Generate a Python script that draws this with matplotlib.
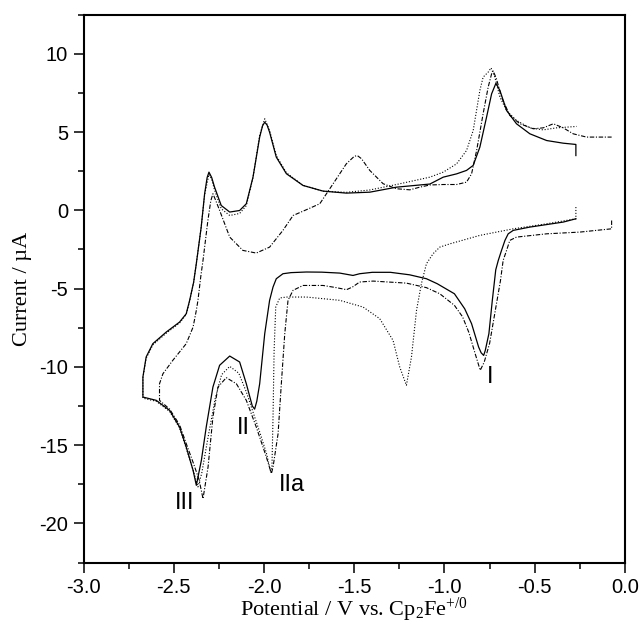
import matplotlib
matplotlib.use("Agg")
import matplotlib.pyplot as plt
from matplotlib.ticker import MultipleLocator

plt.rcParams['axes.unicode_minus'] = False
plt.rcParams['mathtext.fontset'] = 'custom'
plt.rcParams['mathtext.rm'] = 'Liberation Serif'
plt.rcParams['mathtext.it'] = 'Liberation Serif:italic'

# solid trace: starts at -0.27 V going negative, reverses at -2.67 V
solid_v = [-0.272, -0.342, -0.527, -0.619, -0.647, -0.665, -0.684, -0.702, -0.716, -0.735,
           -0.754, -0.774, -0.783, -0.797, -0.811, -0.85, -0.888, -0.945, -1.04, -1.1,
           -1.193, -1.30, -1.40, -1.47, -1.507, -1.58, -1.68, -1.765, -1.85, -1.895,
           -1.932, -1.95, -1.969, -1.996, -2.024, -2.04, -2.052, -2.065, -2.098, -2.135,
           -2.19, -2.246, -2.283, -2.32, -2.347, -2.375, -2.393, -2.431, -2.468, -2.523,
           -2.597, -2.671, -2.671, -2.653, -2.616, -2.542, -2.468, -2.431, -2.412, -2.39,
           -2.375, -2.348, -2.329, -2.315, -2.305, -2.29, -2.274, -2.237, -2.19, -2.135,
           -2.098, -2.061, -2.024, -2.008, -1.996, -1.983, -1.969, -1.932, -1.876, -1.784,
           -1.673, -1.544, -1.414, -1.266, -1.081, -1.007, -0.933, -0.878, -0.841, -0.804,
           -0.767, -0.739, -0.715, -0.693, -0.656, -0.601, -0.527, -0.434, -0.342, -0.272,
           -0.272]
solid_i = [-0.54, -0.75, -1.07, -1.28, -1.5, -1.92, -2.56, -3.2, -3.8, -5.75,
           -7.88, -8.95, -9.27, -9.1, -8.73, -7.24, -6.29, -5.33, -4.69, -4.37,
           -4.12, -3.96, -3.96, -4.05, -4.16, -4.01, -3.95, -3.94, -3.98, -4.05,
           -4.37, -4.9, -5.75, -7.88, -11.08, -12.2, -12.7, -12.5, -11.08, -9.69,
           -9.31, -9.9, -11.29, -13.84, -15.97, -17.57, -16.61, -15.12, -13.84, -12.78,
           -12.14, -11.93, -10.65, -9.37, -8.52, -7.78, -7.14, -6.61, -5.75, -4.6,
           -3.4, -1.07, 1.06, 2.1, 2.44, 2.1, 1.48, 0.31, -0.11, -0.01,
           0.42, 2.12, 4.68, 5.4, 5.63, 5.45, 4.99, 3.4, 2.34, 1.59,
           1.23, 1.1, 1.16, 1.48, 1.68, 2.12, 2.33, 2.55, 2.87, 4.04,
           5.95, 7.44, 8.12, 7.66, 6.38, 5.53, 4.89, 4.46, 4.29, 4.21,
           3.5]

# dash-dot trace: scan window -0.07 V to -2.58 V
dashdot_v = [-0.074, -0.074, -0.25, -0.434, -0.601, -0.638, -0.656, -0.675, -0.69, -0.72,
             -0.75, -0.78, -0.802, -0.83, -0.865, -0.9, -0.945, -1.026, -1.1, -1.211,
             -1.396, -1.47, -1.51, -1.543, -1.599, -1.673, -1.784, -1.839, -1.867, -1.885,
             -1.904, -1.922, -1.95, -1.959, -1.987, -2.043, -2.098, -2.153, -2.209, -2.255,
             -2.283, -2.31, -2.338, -2.36, -2.393, -2.431, -2.468, -2.523, -2.579, -2.579,
             -2.56, -2.505, -2.431, -2.393, -2.375, -2.366, -2.35, -2.338, -2.311, -2.295,
             -2.283, -2.27, -2.246, -2.19, -2.117, -2.043, -1.969, -1.895, -1.839, -1.765,
             -1.691, -1.617, -1.544, -1.50, -1.483, -1.46, -1.414, -1.34, -1.266, -1.192,
             -1.137, -1.081, -1.007, -0.933, -0.878, -0.85, -0.822, -0.786, -0.758, -0.739,
             -0.73, -0.712, -0.684, -0.638, -0.582, -0.508, -0.453, -0.397, -0.342, -0.287,
             -0.213, -0.074]
dashdot_i = [-0.65, -1.18, -1.39, -1.5, -1.71, -1.92, -2.56, -3.2, -4.5, -6.5,
             -8.5, -9.7, -10.22, -9.16, -7.8, -6.8, -6.07, -5.33, -4.94, -4.65,
             -4.52, -4.58, -4.9, -5.07, -4.94, -4.8, -4.8, -5.11, -5.75, -7.88,
             -11.08, -14.27, -16.4, -16.82, -15.76, -13.84, -12.14, -11.08, -10.69, -11.29,
             -13.2, -16.4, -18.42, -17.2, -16.1, -14.9, -13.7, -12.7, -12.14, -11.08,
             -10.44, -9.58, -8.52, -7.46, -6.39, -5.75, -4.2, -3.2, -0.65, 0.6,
             1.06, 0.7, 0.0, -1.71, -2.56, -2.73, -2.35, -1.28, -0.33, 0.04,
             0.42, 1.7, 2.97, 3.45, 3.5, 3.3, 2.55, 1.7, 1.38, 1.31,
             1.48, 1.62, 1.65, 1.65, 1.8, 2.33, 3.82, 6.17, 7.87, 8.72,
             8.9, 8.4, 7.23, 6.06, 5.53, 5.21, 5.27, 5.53, 5.27, 4.89,
             4.68, 4.68]

# dotted trace
dotted_v = [-0.272, -0.272, -0.434, -0.619, -0.804, -0.970, -1.026, -1.063, -1.1, -1.128,
            -1.155, -1.183, -1.211, -1.248, -1.285, -1.359, -1.451, -1.58, -1.765, -1.876,
            -1.913, -1.935, -1.944, -1.95, -1.956, -1.962, -1.987, -2.02, -2.052, -2.098,
            -2.14, -2.19, -2.235, -2.27, -2.31, -2.345, -2.366, -2.385, -2.431, -2.468,
            -2.523, -2.597, -2.671, -2.671, -2.653, -2.616, -2.542, -2.468, -2.431, -2.412,
            -2.39, -2.375, -2.348, -2.329, -2.305, -2.29, -2.274, -2.237, -2.19, -2.135,
            -2.098, -2.061, -2.024, -1.996, -1.969, -1.932, -1.876, -1.784, -1.673, -1.544,
            -1.414, -1.266, -1.081, -1.007, -0.933, -0.878, -0.841, -0.804, -0.786, -0.758,
            -0.742, -0.721, -0.693, -0.656, -0.601, -0.527, -0.453, -0.379, -0.268]
dotted_i = [0.21, -0.54, -0.86, -1.18, -1.6, -2.14, -2.35, -2.77, -3.41, -4.69,
            -6.39, -9.37, -11.18, -10.01, -8.31, -6.92, -6.18, -5.75, -5.54, -5.54,
            -5.6, -6.18, -8.95, -13.2, -16.4, -16.75, -15.5, -14.3, -13.2, -11.6,
            -10.4, -9.97, -10.5, -12.0, -14.5, -16.8, -17.67, -16.9, -15.2, -13.9,
            -12.85, -12.2, -12.0, -10.7, -9.45, -8.6, -7.85, -7.2, -6.65, -5.8,
            -4.6, -3.4, -1.07, 1.0, 2.3, 2.0, 1.3, 0.1, -0.33, -0.2,
            0.3, 2.1, 4.8, 5.85, 5.1, 3.5, 2.4, 1.6, 1.22, 1.15,
            1.3, 1.65, 2.12, 2.44, 2.97, 3.82, 5.1, 7.66, 8.51, 8.83,
            9.1, 8.51, 7.23, 6.38, 5.74, 5.27, 5.14, 5.27, 5.36]

peak_names = ['I', 'II', 'IIa', 'III']
peak_pos = [(-0.749, -10.67), (-2.113, -13.93), (-1.847, -17.57), (-2.44, -18.72)]

fig = plt.figure(figsize=(6.41, 6.25), dpi=100)
ax = fig.add_axes([0.1303, 0.1, 0.8447, 0.8765])

ax.plot(solid_v, solid_i, color='black', lw=0.9, linestyle='-')
ax.plot(dashdot_v, dashdot_i, color='black', lw=0.8, linestyle=(0, (4, 1.5, 1, 1.5)))
ax.plot(dotted_v, dotted_i, color='black', lw=0.8, linestyle=(0, (1, 1.6)))

for name, (x, y) in zip(peak_names, peak_pos):
    ax.text(x, y, name, ha='center', va='center', fontsize=17,
            family='Liberation Sans')

ax.set_xlim(-3.0, 0.0)
ax.set_ylim(-22.5, 12.5)
ax.xaxis.set_minor_locator(MultipleLocator(0.25))
ax.yaxis.set_minor_locator(MultipleLocator(2.5))
ax.set_xticks([-3.0, -2.5, -2.0, -1.5, -1.0, -0.5, 0.0])
ax.set_xticklabels(['-3.0', '-2.5', '-2.0', '-1.5', '-1.0', '-0.5', '0.0'])
ax.set_yticks([-20, -15, -10, -5, 0, 5, 10])
ax.set_yticklabels(['-20', '-15', '-10', '-5', '0', '5', '10'])
ax.tick_params(which='major', direction='out', length=7, width=1.1, pad=4,
               labelsize=14.5)
ax.tick_params(which='minor', direction='out', length=4, width=1.1)
for lab in ax.get_xticklabels() + ax.get_yticklabels():
    lab.set_family('Liberation Sans')
for sp in ax.spines.values():
    sp.set_linewidth(1.5)

ax.set_xlabel(r'Potential / V vs. Cp$_2$Fe$^{+/0}$', family='Liberation Serif',
              fontsize=16, labelpad=-1)
ax.set_ylabel('Current / µA', family='Liberation Serif', fontsize=16, labelpad=5)

fig.savefig('out.png', dpi=100)
